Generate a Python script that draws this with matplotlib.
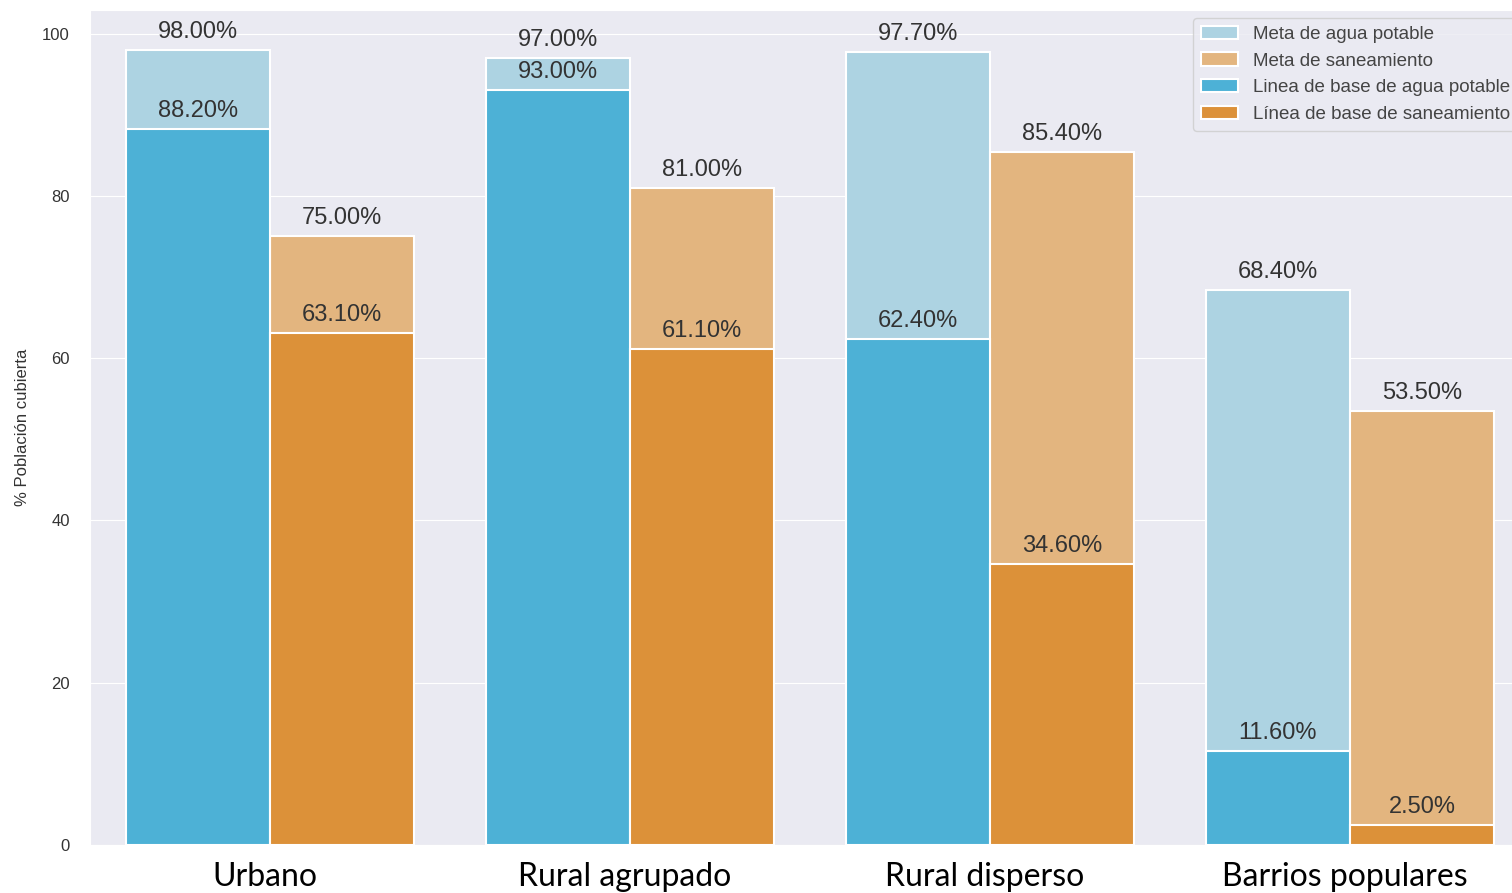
import numpy as np
import seaborn as sns
import matplotlib.pyplot as plt

sns.set_style("darkgrid")
plt.rcParams['font.family'] = ['Liberation Sans', 'DejaVu Sans']

categorias = ['Urbano', 'Rural agrupado', 'Rural disperso', 'Barrios populares']
meta_agua = [98.0, 97.0, 97.7, 68.4]
meta_san = [75.0, 81.0, 85.4, 53.5]
base_agua = [88.2, 93.0, 62.4, 11.6]
base_san = [63.1, 61.1, 34.6, 2.5]

c_meta_agua = '#add3e2'
c_meta_san = '#e3b57f'
c_base_agua = '#4db1d6'
c_base_san = '#dc9139'

fig = plt.figure(figsize=(15.12, 8.93), dpi=100)
ax = fig.add_axes([90 / 1512, 48 / 893, 1440 / 1512, 835 / 893])

x = np.arange(len(categorias))
w = 0.4
kw = dict(width=w, edgecolor='white', linewidth=1.5)

b1 = ax.bar(x - w / 2, meta_agua, color=c_meta_agua, label='Meta de agua potable', **kw)
b2 = ax.bar(x + w / 2, meta_san, color=c_meta_san, label='Meta de saneamiento', **kw)
b3 = ax.bar(x - w / 2, base_agua, color=c_base_agua, label='Linea de base de agua potable', **kw)
b4 = ax.bar(x + w / 2, base_san, color=c_base_san, label='Línea de base de saneamiento', **kw)

# etiquetas encima de cada barra
for barras in [b1, b2, b3, b4]:
    for b in barras:
        h = b.get_height()
        ax.annotate(f'{h:.2f}%', (b.get_x() + b.get_width() / 2, h),
                    xytext=(0, 5), textcoords='offset points',
                    ha='center', va='bottom', fontsize=17, color='#333333')

ax.set_xlim(-0.5, 3.5)
ax.set_ylim(0, 102.9)
ax.set_yticks([0, 20, 40, 60, 80, 100])
ax.grid(False, axis='x')
ax.tick_params(axis='y', labelsize=12, pad=11, colors='#333333')
ax.set_ylabel('% Población cubierta', fontsize=12, color='#333333', labelpad=9)

ax.set_xticks(x - 0.015)
ax.set_xticklabels(categorias, fontsize=23, family=['Lato', 'DejaVu Sans'], color='black')
ax.tick_params(axis='x', pad=9)

# la leyenda queda cortada por el borde derecho, como en la imagen original
leg = ax.legend(loc='upper left', fontsize=13.5, bbox_to_anchor=(1103 / 1440, 1 - 8 / 835),
                borderaxespad=0, labelspacing=0.52, handlelength=2.0, borderpad=0.4,
                frameon=True, facecolor='#eaeaf2', edgecolor='#cccccc')
for t in leg.get_texts():
    t.set_color('#444444')

fig.savefig('out.png', dpi=100)
